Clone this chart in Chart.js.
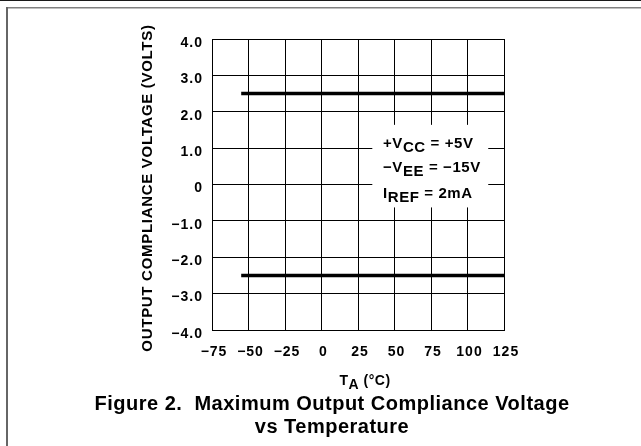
<!DOCTYPE html>
<html><head><meta charset="utf-8">
<script src="https://cdn.jsdelivr.net/npm/chart.js@4"></script>
<style>html,body{margin:0;padding:0;background:#fff;}canvas{display:block;}</style>
</head><body>
<canvas id="c" width="641" height="446"></canvas>
<script>
const temperatures = [-55, 125];
const upperLimit = [2.5, 2.5];
const lowerLimit = [-2.5, -2.5];
const xTickValues = [-75, -50, -25, 0, 25, 50, 75, 100, 125];
const xTickLabels = ['−75', '−50', '−25', '0', '25', '50', '75', '100', '125'];
const yTickValues = [4, 3, 2, 1, 0, -1, -2, -3, -4];
const yTickLabels = ['4.0', '3.0', '2.0', '1.0', '0', '−1.0', '−2.0', '−3.0', '−4.0'];
const conditionLines = [['+V', 'CC', ' = +5V'], ['−V', 'EE', ' = −15V'], ['I', 'REF', ' = 2mA']];
const yTitle = 'OUTPUT COMPLIANCE VOLTAGE (VOLTS)';
const xTitleParts = ['T', 'A', ' (°C)'];
const captionLines = ['Figure 2.  Maximum Output Compliance Voltage', 'vs Temperature'];

const FAM = "'Liberation Sans', Arial, Helvetica, sans-serif";

function drawSubText(ctx, parts, x, y, sub) {
  let cx = x;
  parts.forEach((p, i) => {
    ctx.fillText(p, cx, i === 1 ? y + sub : y);
    cx += ctx.measureText(p).width;
  });
  return cx;
}

const decor = {
  id: 'decor',
  beforeDraw(chart) {
    chart.ctx.letterSpacing = '1px';
  },
  beforeDatasetsDraw(chart) {
    const { ctx, scales: { x, y } } = chart;
    ctx.save();
    const l = x.getPixelForValue(34.8), r = x.getPixelForValue(114.2);
    const t = y.getPixelForValue(1.64), b = y.getPixelForValue(-0.63);
    ctx.fillStyle = '#fff';
    ctx.fillRect(l, t, r - l, b - t);
    ctx.fillStyle = '#000';
    ctx.font = 'bold 15px ' + FAM;
    ctx.letterSpacing = '0.6px';
    ctx.textBaseline = 'alphabetic';
    ctx.textAlign = 'left';
    const tx = x.getPixelForValue(42.1);
    const baseVals = [1.017, 0.33, -0.36];
    conditionLines.forEach((parts, i) => {
      drawSubText(ctx, parts, tx, y.getPixelForValue(baseVals[i]), 4);
    });
    ctx.restore();
  },
  afterDraw(chart) {
    const { ctx } = chart;
    ctx.save();
    ctx.letterSpacing = '0px';
    // frame
    ctx.fillStyle = '#1a1a1a';
    ctx.fillRect(0, 0, 641, 1);
    ctx.fillStyle = '#808080';
    ctx.fillRect(6, 7, 635, 1.5);
    ctx.fillStyle = '#666';
    ctx.fillRect(6, 7, 2, 439);
    // y title
    ctx.fillStyle = '#000';
    ctx.save();
    ctx.translate(148, 188);
    ctx.rotate(-Math.PI / 2);
    ctx.font = 'bold 15px ' + FAM;
    ctx.letterSpacing = '0.7px';
    ctx.textAlign = 'center';
    ctx.textBaseline = 'middle';
    ctx.fillText(yTitle, 0, 0);
    ctx.restore();
    // x title
    ctx.font = 'bold 14px ' + FAM;
    ctx.letterSpacing = '0.5px';
    ctx.textAlign = 'left';
    ctx.textBaseline = 'alphabetic';
    let w = 0;
    xTitleParts.forEach(p => { w += ctx.measureText(p).width; });
    drawSubText(ctx, xTitleParts, 365 - w / 2, 385, 4);
    // caption
    ctx.font = 'bold 20px ' + FAM;
    ctx.letterSpacing = '0.5px';
    ctx.textAlign = 'center';
    ctx.fillText(captionLines[0], 332, 410);
    ctx.fillText(captionLines[1], 332, 433);
    ctx.restore();
  }
};

const tickFont = { family: FAM, size: 14, weight: 'bold' };

new Chart(document.getElementById('c'), {
  type: 'scatter',
  data: {
    datasets: [
      { data: temperatures.map((t, i) => ({ x: t, y: upperLimit[i] })), showLine: true, borderColor: '#000', borderWidth: 3.5, pointRadius: 0, clip: false },
      { data: temperatures.map((t, i) => ({ x: t, y: lowerLimit[i] })), showLine: true, borderColor: '#000', borderWidth: 3.5, pointRadius: 0, clip: false }
    ]
  },
  options: {
    responsive: false,
    animation: false,
    devicePixelRatio: 1,
    layout: { padding: { left: 0, top: 39, right: 137, bottom: 86 } },
    plugins: { legend: { display: false }, tooltip: { enabled: false } },
    scales: {
      x: {
        type: 'linear', min: -75, max: 125,
        afterBuildTicks: s => { s.ticks = xTickValues.map(v => ({ value: v })); },
        afterFit: s => { s.height = 30; },
        grid: { color: '#000', lineWidth: 1, drawTicks: false },
        border: { color: '#000', width: 1 },
        ticks: { color: '#000', font: tickFont, padding: 14, labelOffset: 2, maxRotation: 0, autoSkip: false,
          callback: v => xTickLabels[xTickValues.indexOf(v)] }
      },
      y: {
        type: 'linear', min: -4, max: 4,
        afterBuildTicks: s => { s.ticks = yTickValues.map(v => ({ value: v })); },
        afterFit: s => { s.width = 212; },
        grid: { color: '#000', lineWidth: 1, drawTicks: false },
        border: { color: '#000', width: 1 },
        ticks: { color: '#000', font: tickFont, padding: 9, labelOffset: 4, autoSkip: false,
          callback: v => yTickLabels[yTickValues.indexOf(v)] }
      }
    }
  },
  plugins: [decor]
});
</script>
</body></html>
